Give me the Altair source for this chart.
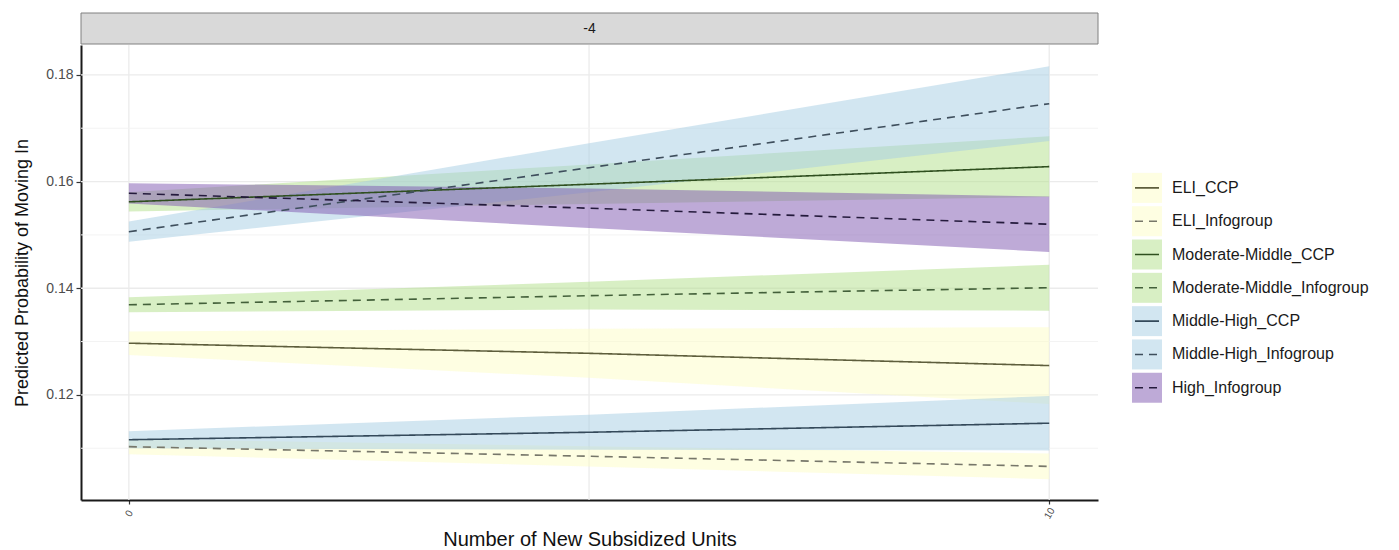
import altair as alt
import pandas as pd

# ---------------- data ----------------
x_vals = [0, 5, 10]
series = ["ELI_CCP", "ELI_Infogroup", "Moderate-Middle_CCP", "Moderate-Middle_Infogroup",
          "Middle-High_CCP", "Middle-High_Infogroup", "High_Infogroup"]

est_eli_ccp = [0.1297, 0.1278, 0.1255]
est_eli_info = [0.1103, 0.1085, 0.1066]
est_mm_ccp = [0.1562, 0.1595, 0.1628]
est_mm_info = [0.1369, 0.1386, 0.1401]
est_mh_ccp = [0.1116, 0.1130, 0.1147]
est_mh_info = [0.1506, 0.1626, 0.1746]
est_high_info = [0.1578, 0.1550, 0.1520]

lo_eli_ccp = [0.1275, 0.1232, 0.1183]
lo_eli_info = [0.1089, 0.1066, 0.1042]
lo_mm_ccp = [0.1544, 0.1558, 0.1571]
lo_mm_info = [0.1355, 0.1360, 0.1358]
lo_mh_ccp = [0.1100, 0.1097, 0.1096]
lo_mh_info = [0.1487, 0.1580, 0.1676]
lo_high_info = [0.1559, 0.1513, 0.1468]

hi_eli_ccp = [0.1319, 0.1324, 0.1327]
hi_eli_info = [0.1117, 0.1104, 0.1090]
hi_mm_ccp = [0.1580, 0.1632, 0.1685]
hi_mm_info = [0.1383, 0.1412, 0.1444]
hi_mh_ccp = [0.1132, 0.1163, 0.1198]
hi_mh_info = [0.1525, 0.1672, 0.1816]
hi_high_info = [0.1597, 0.1587, 0.1572]

facet_label = ["-4"]
x_tick_values = [0, 10]
x_grid_values = [0, 5, 10]
y_tick_values = [0.12, 0.14, 0.16, 0.18]
y_minor_values = [0.11, 0.13, 0.15, 0.17]

fill_colors = ["#fdfdc6", "#fdfdc6", "#b2df8a", "#b2df8a", "#a6cee3", "#a6cee3", "#7d55af"]
line_colors = ["#5e5e3c", "#77776a", "#2f4f1f", "#43603a", "#34495a", "#3e4e5c", "#241a3c"]
dashed = [False, True, False, True, False, True, True]

ests = [est_eli_ccp, est_eli_info, est_mm_ccp, est_mm_info, est_mh_ccp, est_mh_info, est_high_info]
los = [lo_eli_ccp, lo_eli_info, lo_mm_ccp, lo_mm_info, lo_mh_ccp, lo_mh_info, lo_high_info]
his = [hi_eli_ccp, hi_eli_info, hi_mm_ccp, hi_mm_info, hi_mh_ccp, hi_mh_info, hi_high_info]

rows = []
for k, s in enumerate(series):
    for i, xv in enumerate(x_vals):
        rows.append({"series": s, "order": k, "x": xv, "est": ests[k][i], "lo": los[k][i], "hi": his[k][i]})
df = pd.DataFrame(rows)

leg = pd.DataFrame({"series": series, "idx": list(range(len(series)))})
leg["top"] = leg["idx"] - 0.45
leg["bot"] = leg["idx"] + 0.45

# ---------------- scales / axes ----------------
W, H = 1017, 455
FONT = "Liberation Sans"
xs = alt.Scale(domain=[-0.52, 10.53], nice=False, zero=False)
ys = alt.Scale(domain=[0.1003, 0.1856], nice=False, zero=False)
fill_scale = alt.Scale(domain=series, range=fill_colors)
line_scale = alt.Scale(domain=series, range=line_colors)
dash_scale = alt.Scale(domain=series, range=[[8, 6] if d else [1, 0] for d in dashed])

x_axis = alt.Axis(values=x_tick_values, grid=False, title="Number of New Subsidized Units",
                  labelAngle=-60, labelFontSize=10, labelColor="#4d4d4d", labelPadding=9,
                  labelAlign="center", labelBaseline="middle",
                  tickSize=4, tickColor="#333333", tickWidth=1.2,
                  domainColor="#1a1a1a", domainWidth=2,
                  titleFontSize=20, titleFontWeight="normal", titleColor="#111111", titlePadding=9)
y_axis = alt.Axis(values=y_tick_values, format=".2f", grid=False, title="Predicted Probability of Moving In",
                  labelFontSize=14, labelColor="#4d4d4d", labelPadding=3,
                  tickSize=5, tickColor="#333333", tickWidth=1.2,
                  domainColor="#1a1a1a", domainWidth=2,
                  titleFontSize=18, titleFontWeight="normal", titleColor="#111111", titlePadding=14)

gx = alt.Chart(pd.DataFrame({"x": x_grid_values})).mark_rule(color="#ebebeb", strokeWidth=1.3).encode(
    x=alt.X("x:Q", scale=xs, axis=x_axis))
gy_major = alt.Chart(pd.DataFrame({"y": y_tick_values})).mark_rule(color="#ebebeb", strokeWidth=1.3).encode(
    y=alt.Y("y:Q", scale=ys, axis=y_axis))
gy_minor = alt.Chart(pd.DataFrame({"y": y_minor_values})).mark_rule(color="#f3f3f3", strokeWidth=1).encode(
    y=alt.Y("y:Q", scale=ys, axis=y_axis))

ribbons = alt.Chart(df).mark_area(opacity=0.5, strokeWidth=0).encode(
    x=alt.X("x:Q", scale=xs, axis=x_axis),
    y=alt.Y("lo:Q", scale=ys, axis=y_axis),
    y2="hi:Q",
    fill=alt.Fill("series:N", scale=fill_scale, legend=None),
    order=alt.Order("order:Q"),
)
lines = alt.Chart(df).mark_line(strokeWidth=1.6).encode(
    x=alt.X("x:Q", scale=xs, axis=x_axis),
    y=alt.Y("est:Q", scale=ys, axis=y_axis),
    stroke=alt.Stroke("series:N", scale=line_scale, legend=None),
    strokeDash=alt.StrokeDash("series:N", scale=dash_scale, legend=None),
)

strip_df = pd.DataFrame({"label": facet_label})
strip_box = alt.Chart(strip_df).mark_rect(fill="#d9d9d9", stroke="#808080", strokeWidth=1).encode(
    x=alt.value(0), x2=alt.value(W), y=alt.value(-32), y2=alt.value(-1))
strip_text = alt.Chart(strip_df).mark_text(fontSize=14, color="#1a1a1a", font=FONT).encode(
    x=alt.value(W / 2), y=alt.value(-16), text="label:N")

no_border = alt.ViewBackground(stroke="transparent", strokeWidth=0)
main = alt.layer(gx, gy_minor, gy_major, ribbons, lines, strip_box, strip_text).properties(
    width=W, height=H, view=no_border)

# ---------------- legend panel ----------------
ly = alt.Scale(domain=[-4.29, 9.37], nice=False, zero=False, reverse=True)
leg_keys = alt.Chart(leg).mark_rect(opacity=0.5).encode(
    x=alt.value(0), x2=alt.value(30),
    y=alt.Y("top:Q", scale=ly, axis=None), y2="bot:Q",
    fill=alt.Fill("series:N", scale=fill_scale, legend=None))
leg_lines = alt.Chart(leg).mark_rule(strokeWidth=1.6).encode(
    x=alt.value(3), x2=alt.value(27),
    y=alt.Y("idx:Q", scale=ly, axis=None),
    stroke=alt.Stroke("series:N", scale=line_scale, legend=None),
    strokeDash=alt.StrokeDash("series:N", scale=dash_scale, legend=None))
leg_text = alt.Chart(leg).mark_text(align="left", baseline="middle", fontSize=16, color="#1a1a1a", font=FONT).encode(
    x=alt.value(40), y=alt.Y("idx:Q", scale=ly, axis=None), text="series:N")
legend_panel = alt.layer(leg_keys, leg_lines, leg_text).properties(width=240, height=455, view=no_border)

chart = alt.hconcat(main, legend_panel, spacing=33).resolve_scale(
    fill="shared", stroke="shared", strokeDash="shared").properties(
    padding={"left": 5, "top": 4, "right": 5, "bottom": 2}
).configure_view(stroke="transparent", strokeWidth=0).configure(font=FONT)

chart.save("out.html", embed_options={"renderer": "svg", "actions": False})
